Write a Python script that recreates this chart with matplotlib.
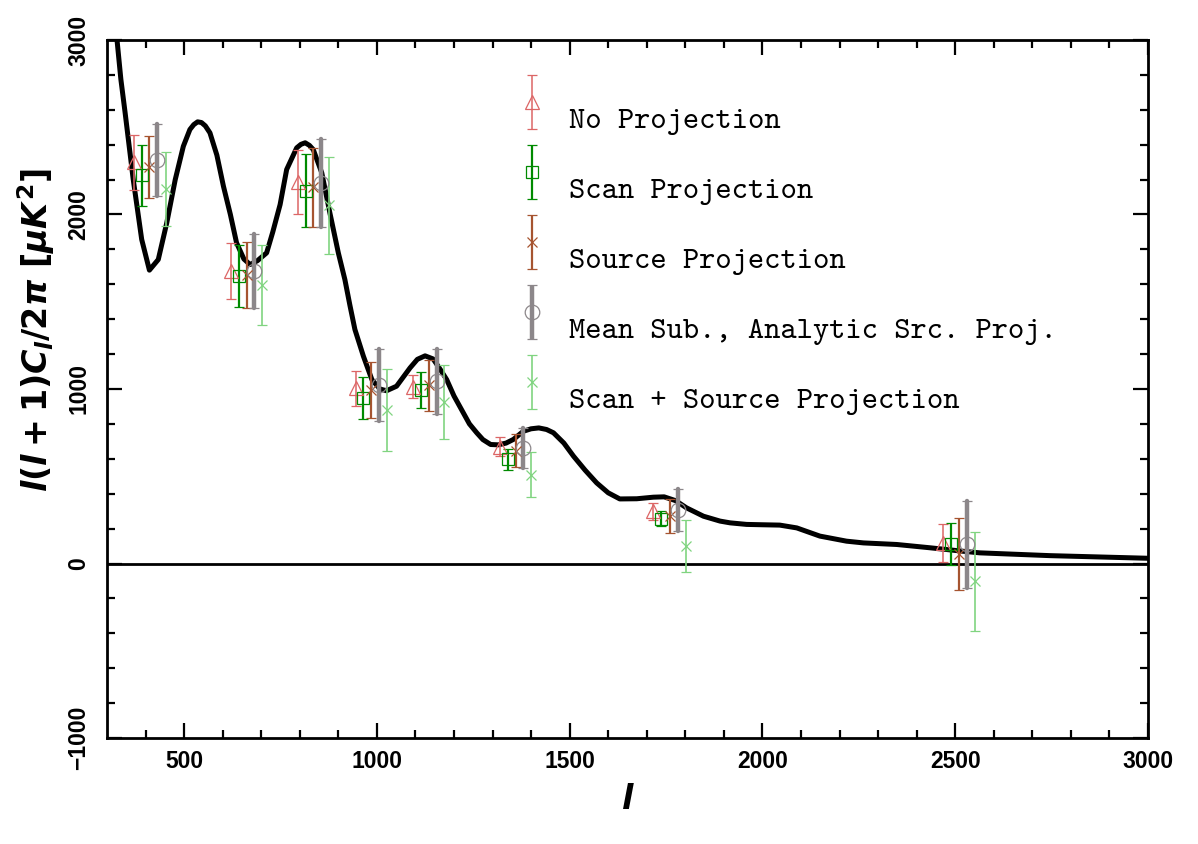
import numpy as np
import matplotlib
matplotlib.use("Agg")
import matplotlib.pyplot as plt
from matplotlib.container import ErrorbarContainer
from matplotlib.legend_handler import HandlerErrorbar

# ---------------- data ----------------
theory_l = [310, 326, 336, 347, 368, 390, 410, 433, 455, 477, 498, 515, 525, 535, 545, 555,
            567, 585, 602, 620, 636, 655, 671, 690, 714, 730, 749, 766, 792, 803, 814, 825,
            835, 857, 878, 900, 917, 930, 943, 965, 987, 1008, 1025, 1051, 1086, 1105, 1125,
            1146, 1165, 1181, 1200, 1224, 1240, 1259, 1275, 1295, 1315, 1335, 1354, 1380,
            1400, 1420, 1440, 1458, 1485, 1510, 1540, 1570, 1600, 1630, 1674, 1717, 1745,
            1775, 1803, 1847, 1890, 1916, 1959, 2000, 2045, 2089, 2149, 2218, 2262, 2348,
            2435, 2521, 2564, 2746, 3000]
theory_dl = [3350, 3000, 2774, 2583, 2201, 1857, 1681, 1742, 1952, 2200, 2391, 2487, 2515,
             2531, 2527, 2508, 2468, 2340, 2162, 2000, 1838, 1745, 1713, 1735, 1780, 1900,
             2057, 2258, 2382, 2402, 2411, 2396, 2372, 2239, 2010, 1780, 1627, 1480, 1341,
             1188, 1054, 1000, 990, 1016, 1121, 1170, 1190, 1172, 1110, 1054, 960, 864, 800,
             749, 710, 682, 680, 690, 711, 758, 772, 777, 768, 749, 690, 615, 535, 462, 405,
             370, 371, 380, 382, 360, 319, 271, 243, 233, 224, 222, 220, 204, 157, 128, 118,
             109, 90, 70, 61, 45, 30]

labels = ["No Projection", "Scan Projection", "Source Projection",
          "Mean Sub., Analytic Src. Proj.", "Scan + Source Projection"]

l_noproj = [371, 622, 795, 945, 1094, 1319, 1717, 2469]
v_noproj = [2300, 1676, 2186, 1004, 1014, 670, 298, 118]
e_noproj = [158, 158, 186, 102, 65, 55, 46, 108]

l_scan = [390, 642, 815, 965, 1114, 1341, 1738, 2489]
v_scan = [2226, 1650, 2136, 948, 995, 596, 257, 112]
e_scan = [175, 178, 208, 122, 102, 61, 43, 118]

l_src = [410, 662, 835, 985, 1135, 1360, 1760, 2510]
v_src = [2272, 1654, 2155, 994, 1021, 646, 272, 55]
e_src = [176, 188, 227, 162, 148, 94, 100, 204]

l_mean = [430, 682, 855, 1005, 1155, 1380, 1780, 2531]
v_mean = [2312, 1674, 2179, 1024, 1043, 663, 307, 110]
e_mean = [208, 212, 251, 208, 189, 115, 122, 250]

l_both = [452, 703, 876, 1025, 1175, 1400, 1801, 2551]
v_both = [2145, 1595, 2052, 880, 926, 510, 100, -102]
e_both = [212, 229, 277, 236, 210, 130, 148, 282]

xticks = [500, 1000, 1500, 2000, 2500, 3000]
yticks = [-1000, 0, 1000, 2000, 3000]

# ---------------- style ----------------
plt.rcParams['font.family'] = ['Liberation Sans', 'DejaVu Sans']
plt.rcParams['font.weight'] = 'bold'
plt.rcParams['mathtext.fontset'] = 'custom'
plt.rcParams['mathtext.it'] = 'DejaVu Sans:italic:bold'
plt.rcParams['mathtext.rm'] = 'DejaVu Sans:bold'
plt.rcParams['mathtext.bf'] = 'DejaVu Sans:bold'

fig = plt.figure(figsize=(11.98, 8.44), dpi=100)
ax = fig.add_axes([107 / 1198, 106 / 844, 1041 / 1198, 698 / 844])

ax.plot(theory_l, theory_dl, color='black', lw=3.6, zorder=2,
        solid_joinstyle='round', solid_capstyle='round')
ax.axhline(0, color='black', lw=2.0, zorder=1)

series = [
    (l_noproj, v_noproj, e_noproj, '#dc6666', '^', 10.0, 1.1, 1.1, 3.8),
    (l_scan, v_scan, e_scan, '#008a00', 's', 8.0, 1.6, 1.6, 3.8),
    (l_src, v_src, e_src, '#a65430', 'x', 7.5, 1.6, 1.6, 3.8),
    (l_mean, v_mean, e_mean, '#8c878a', 'o', 10.5, 3.2, 3.2, 3.8),
    (l_both, v_both, e_both, '#80d480', 'x', 7.5, 1.2, 1.2, 3.8),
]
handles = []
for (lx, vy, ey, col, mk, ms, elw, cth, cs) in series:
    cont = ax.errorbar(lx, vy, yerr=ey, fmt=mk, ms=ms, mfc='none', mec=col, mew=0.9,
                       ecolor=col, elinewidth=elw, capsize=cs, capthick=cth,
                       color=col, zorder=3)
    if mk == 'o':
        for c in cont[1]:
            c.set_solid_capstyle('round')
            c.set_dash_capstyle('round')
        for b in cont[2]:
            b.set_capstyle('round')
    handles.append(cont)

ax.set_xlim(300, 3000)
ax.set_ylim(-1000, 3000)
ax.set_xticks(xticks)
ax.set_yticks(yticks)
ax.set_xticks(np.arange(400, 3000, 100), minor=True)
ax.set_yticks(np.arange(-800, 3000, 200), minor=True)
ax.tick_params(which='both', direction='in', top=True, right=True, width=1.6,
               labelsize=16.5)
ax.tick_params(which='major', length=11)
ax.tick_params(which='minor', length=6)
ax.tick_params(axis='x', pad=9)
ax.tick_params(axis='y', pad=12)
for lab in ax.get_yticklabels():
    lab.set_rotation(90)
    lab.set_va('center')
for s in ax.spines.values():
    s.set_linewidth(2.0)

ax.set_xlabel(r'$l$', fontsize=24, labelpad=8)
ax.set_ylabel(r'$l(l+1)C_l/2\pi\ [\mu K^2]$', fontsize=24)
ax.yaxis.set_label_coords(-0.048, 0.585)

leg = ax.legend(handles, labels, loc='upper left',
                bbox_to_anchor=(0.396, 0.9485), borderaxespad=0, borderpad=0,
                frameon=False, handlelength=0.8, handleheight=3.96,
                handletextpad=0.82, labelspacing=-0.56,
                prop={'family': 'cmtt10', 'size': 22.3},
                handler_map={ErrorbarContainer: HandlerErrorbar(yerr_size=0.87)})

fig.savefig('out.png', dpi=100)
